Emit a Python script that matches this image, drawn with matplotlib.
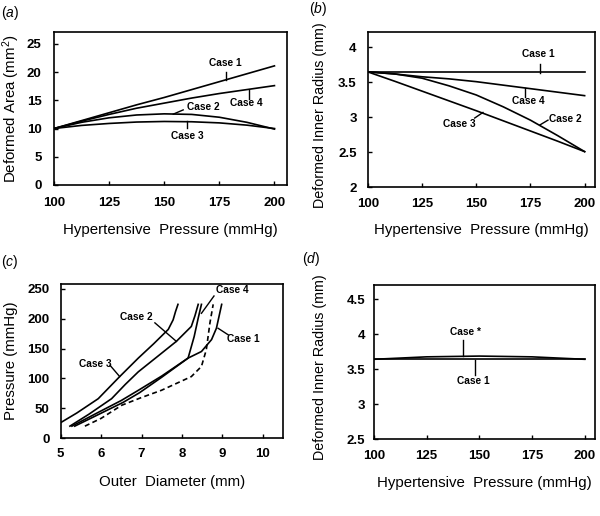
import matplotlib
matplotlib.use("Agg")
import matplotlib.pyplot as plt

plt.rcParams['font.family'] = ['Liberation Sans', 'DejaVu Sans']
plt.rcParams['mathtext.fontset'] = 'custom'
plt.rcParams['mathtext.rm'] = 'Liberation Sans'
plt.rcParams['mathtext.it'] = 'Liberation Sans:italic'

# ---- panel (a): deformed area vs hypertensive pressure
pressure = [100, 112.5, 125, 137.5, 150, 162.5, 175, 187.5, 200]
area_case1 = [10.0, 11.4, 12.8, 14.2, 15.5, 16.9, 18.3, 19.7, 21.1]
area_case4 = [10.0, 11.3, 12.5, 13.6, 14.5, 15.4, 16.2, 16.9, 17.6]
area_case2 = [10.0, 11.1, 11.9, 12.4, 12.6, 12.5, 12.0, 11.1, 9.9]
area_case3 = [10.0, 10.55, 10.9, 11.15, 11.25, 11.2, 11.0, 10.6, 10.0]

# ---- panel (b): deformed inner radius
radius_case1 = [3.65, 3.65, 3.65, 3.65, 3.65, 3.65, 3.65, 3.65, 3.65]
radius_case4 = [3.65, 3.62, 3.58, 3.55, 3.51, 3.46, 3.41, 3.36, 3.31]
radius_case2 = [3.65, 3.62, 3.56, 3.45, 3.32, 3.15, 2.96, 2.74, 2.51]
radius_case3 = [3.65, 3.515, 3.375, 3.235, 3.095, 2.95, 2.805, 2.66, 2.51]

# ---- panel (c): pressure vs outer diameter
od_case3 = [4.98, 5.4, 5.93, 6.46, 6.92, 7.3, 7.66, 7.78, 7.84, 7.9]
p_case3 = [25, 42, 66, 103, 134, 158, 182, 198, 212, 224]
od_case2 = [5.23, 5.7, 6.26, 6.6, 6.92, 7.4, 7.86, 8.23, 8.32, 8.4]
p_case2 = [20, 40, 66, 90, 111, 137, 162, 187, 205, 224]
od_case4 = [5.28, 5.9, 6.5, 6.92, 7.5, 8.15, 8.3, 8.4, 8.48]
p_case4 = [20, 42, 63, 80, 104, 134, 170, 201, 224]
od_case1 = [5.35, 5.95, 6.55, 6.95, 7.5, 8.15, 8.48, 8.73, 8.85, 8.98]
p_case1 = [20, 40, 60, 76, 102, 134, 145, 165, 184, 224]
od_dash = [5.6, 6.0, 6.51, 7.0, 7.49, 8.23, 8.48, 8.6, 8.69, 8.77]
p_dash = [20, 33, 55, 68, 80, 103, 120, 148, 193, 224]

# ---- panel (d)
pressure_d = [100, 125, 150, 175, 200]
radius_d_case1 = [3.64, 3.64, 3.64, 3.64, 3.64]
radius_d_star = [3.64, 3.675, 3.686, 3.675, 3.64]

xlab = 'Hypertensive  Pressure (mmHg)'
rlab = 'Deformed Inner Radius (mm)'
lw = 1.2
col = 'black'
W, H = 600.0, 516.0


def style(ax, ypad, xpad):
    for s in ax.spines.values():
        s.set_linewidth(1.2)
    ax.tick_params(direction='in', length=3, width=1, labelsize=9.5)
    ax.tick_params(axis='y', pad=ypad)
    ax.tick_params(axis='x', pad=xpad)
    for t in ax.get_xticklabels() + ax.get_yticklabels():
        t.set_fontweight('bold')


def labels(ax, xtext, ytext, xl_y, yl_x, yl_y=None, ysize=10.8):
    # label centres given in picture pixels
    ax.set_xlabel(xtext, fontsize=10.8, va='center', ha='center')
    ax.set_ylabel(ytext, fontsize=ysize, va='center', ha='center')
    bb = ax.get_position()
    ax.xaxis.set_label_coords((bb.x0 + bb.x1) / 2, 1 - xl_y / H, transform=fig.transFigure)
    yc = (bb.y0 + bb.y1) / 2 if yl_y is None else 1 - yl_y / H
    ax.yaxis.set_label_coords(yl_x / W, yc, transform=fig.transFigure)


def note(ax, text, tx, ty, x0, y0, x1, y1):
    ax.text(tx, ty, text, fontsize=7.3, fontweight='bold', ha='center', va='center')
    ax.plot([x0, x1], [y0, y1], color=col, lw=1.0)


fig = plt.figure(figsize=(6, 5.16), dpi=100)

# (a)
ax = fig.add_axes([0.09, 0.6415, 0.388, 0.2965])
ax.plot(pressure, area_case1, color=col, lw=lw)
ax.plot(pressure, area_case4, color=col, lw=lw)
ax.plot(pressure, area_case2, color=col, lw=lw)
ax.plot(pressure, area_case3, color=col, lw=lw)
ax.set_xlim(100, 205.6)
ax.set_ylim(0, 27.1)
ax.set_xticks([100, 125, 150, 175, 200])
ax.set_yticks([0, 5, 10, 15, 20, 25])
labels(ax, xlab, 'Deformed Area (mm$^2$)', 230, 11)
note(ax, 'Case 1', 177.6, 21.6, 178.0, 20.1, 178.0, 18.65)
note(ax, 'Case 4', 187.4, 14.5, 188.5, 16.9, 188.5, 15.3)
note(ax, 'Case 2', 167.7, 13.9, 154.1, 12.55, 158.6, 13.3)
note(ax, 'Case 3', 160.6, 8.75, 160.2, 11.3, 160.2, 10.1)
style(ax, 9, 9)
fig.text(10 / W, 1 - 13 / H, r'($\mathit{a}$)', fontsize=10, va='center', ha='center')

# (b)
ax = fig.add_axes([0.613, 0.637, 0.378, 0.301])
ax.plot(pressure, radius_case1, color=col, lw=lw)
ax.plot(pressure, radius_case4, color=col, lw=lw)
ax.plot(pressure, radius_case2, color=col, lw=lw)
ax.plot(pressure, radius_case3, color=col, lw=lw)
ax.set_xlim(100, 204.6)
ax.set_ylim(2, 4.22)
ax.set_xticks([100, 125, 150, 175, 200])
ax.set_yticks([2, 2.5, 3, 3.5, 4])
ax.set_yticklabels(['2', '2.5', '3', '3.5', '4'])
labels(ax, xlab, rlab, 230, 320, 115, 10.3)
note(ax, 'Case 1', 178.5, 3.9, 179.3, 3.76, 179.3, 3.64)
note(ax, 'Case 4', 173.9, 3.23, 172.7, 3.42, 172.7, 3.29)
note(ax, 'Case 2', 191.2, 2.98, 179.3, 2.89, 183.1, 2.96)
note(ax, 'Case 3', 142.1, 2.91, 149.3, 2.99, 153.1, 3.07)
style(ax, 8, 8)
fig.text(318 / W, 1 - 9 / H, r'($\mathit{b}$)', fontsize=10, va='center', ha='center')

# (c)
ax = fig.add_axes([0.101, 0.151, 0.371, 0.2985])
ax.plot(od_case3, p_case3, color=col, lw=lw)
ax.plot(od_case2, p_case2, color=col, lw=lw)
ax.plot(od_case4, p_case4, color=col, lw=lw)
ax.plot(od_case1, p_case1, color=col, lw=lw)
ax.plot(od_dash, p_dash, color=col, lw=lw, linestyle=(0, (3, 2)))
ax.set_xlim(5, 10.5)
ax.set_ylim(0, 258)
ax.set_xticks([5, 6, 7, 8, 9, 10])
ax.set_yticks([0, 50, 100, 150, 200, 250])
labels(ax, 'Outer  Diameter (mm)', 'Pressure (mmHg)', 482, 11)
note(ax, 'Case 4', 9.25, 248, 8.48, 209, 8.79, 238)
note(ax, 'Case 2', 6.86, 203, 7.33, 193, 7.86, 162)
note(ax, 'Case 3', 5.86, 124, 6.22, 122, 6.46, 103)
note(ax, 'Case 1', 9.51, 166, 8.89, 184, 9.14, 173)
style(ax, 8, 7)
fig.text(10 / W, 1 - 262 / H, r'($\mathit{c}$)', fontsize=10, va='center', ha='center')

# (d)
ax = fig.add_axes([0.623, 0.149, 0.368, 0.2985])
ax.plot(pressure_d, radius_d_case1, color=col, lw=lw)
ax.plot(pressure_d, radius_d_star, color=col, lw=lw)
ax.set_xlim(100, 204.7)
ax.set_ylim(2.5, 4.7)
ax.set_xticks([100, 125, 150, 175, 200])
ax.set_yticks([2.5, 3, 3.5, 4, 4.5])
ax.set_yticklabels(['2.5', '3', '3.5', '4', '4.5'])
labels(ax, xlab, rlab, 483, 320, 367, 10.3)
note(ax, 'Case *', 143.6, 4.03, 142.5, 3.91, 142.5, 3.69)
note(ax, 'Case 1', 147.1, 3.33, 148.2, 3.63, 148.2, 3.41)
style(ax, 6, 8)
fig.text(311 / W, 1 - 259 / H, r'($\mathit{d}$)', fontsize=10, va='center', ha='center')

fig.savefig('out.png', dpi=100)
